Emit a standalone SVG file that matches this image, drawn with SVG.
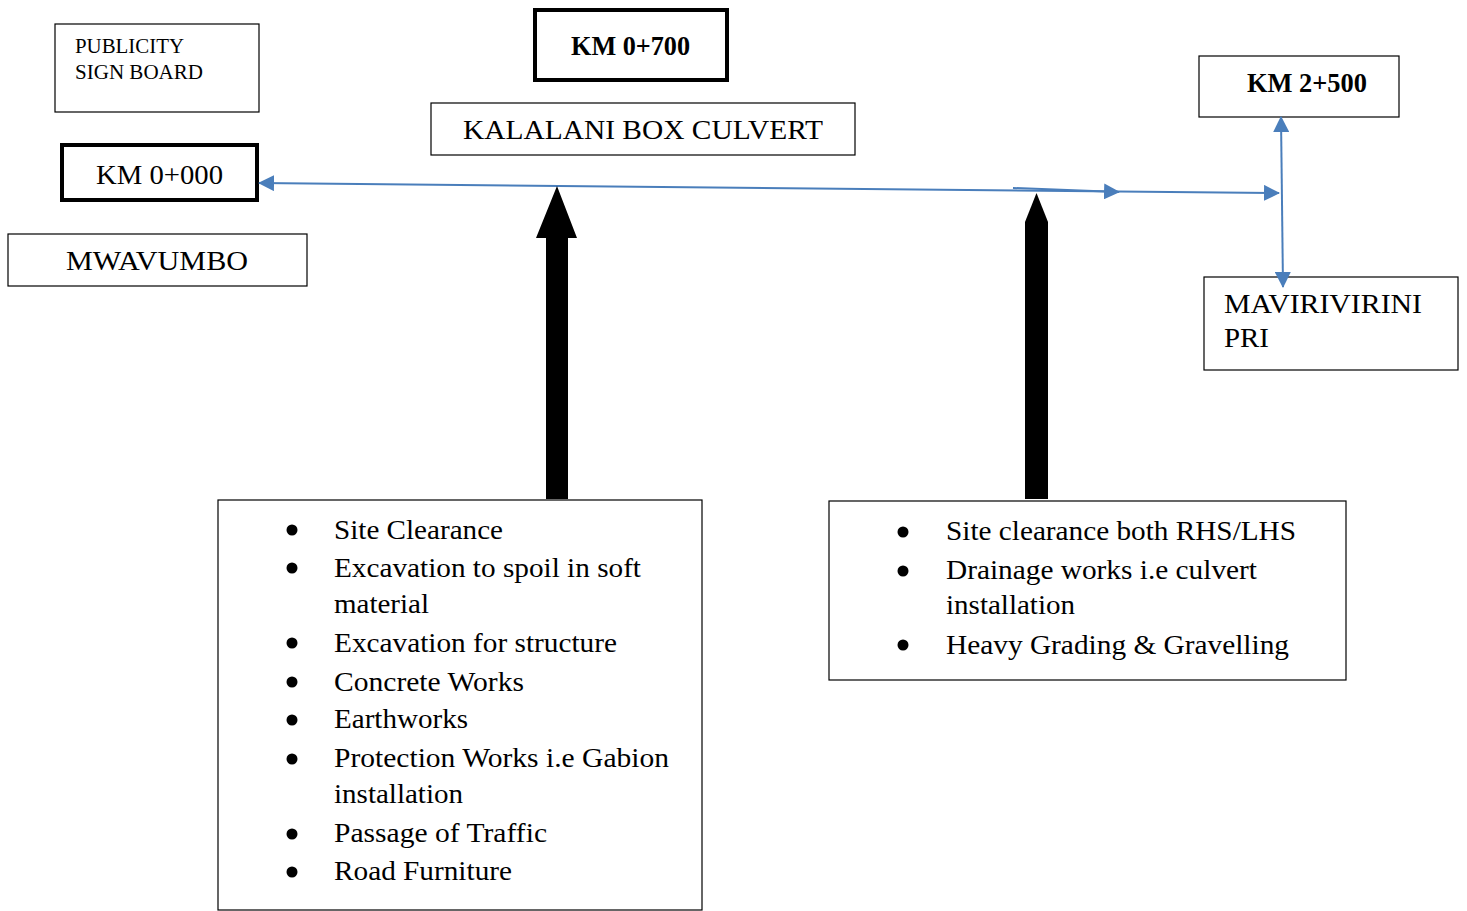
<svg xmlns="http://www.w3.org/2000/svg" width="1467" height="911" viewBox="0 0 1467 911">
<defs>
<style>
.box{fill:#fff;stroke:#000;stroke-width:1.2}
.thick{fill:#fff;stroke:#000;stroke-width:4}
.t{font-family:"Liberation Serif","Times New Roman",serif;font-size:27px;fill:#000}
.b{font-weight:bold}
.s{font-size:20px}
.conn{stroke:#4A7EBB;stroke-width:2;fill:none}
.blk{fill:#000}
</style>
<marker id="ah" viewBox="0 0 16 16" refX="15" refY="8" markerWidth="16" markerHeight="16" markerUnits="userSpaceOnUse" orient="auto-start-reverse">
<path d="M0,0 L16,8 L0,16 Z" fill="#4A7EBB"/>
</marker>
</defs>
<rect width="1467" height="911" fill="#fff"/>

<g id="publicity">
<rect class="box" x="55" y="24" width="204" height="88"/>
<text class="t s" x="75" y="53" textLength="109" lengthAdjust="spacingAndGlyphs">PUBLICITY</text>
<text class="t s" x="75" y="79" textLength="128" lengthAdjust="spacingAndGlyphs">SIGN BOARD</text>
</g>

<g id="km0000">
<rect class="thick" x="62" y="145" width="195" height="55"/>
<text class="t" x="96" y="184" font-size="26" textLength="127" lengthAdjust="spacingAndGlyphs">KM 0+000</text>
</g>

<g id="mwavumbo">
<rect class="box" x="8" y="234" width="299" height="52"/>
<text class="t" x="66" y="270" textLength="182" lengthAdjust="spacingAndGlyphs">MWAVUMBO</text>
</g>

<g id="km0700">
<rect class="thick" x="535" y="10" width="192" height="70"/>
<text class="t b" x="571" y="55" textLength="119" lengthAdjust="spacingAndGlyphs">KM 0+700</text>
</g>

<g id="kalalani">
<rect class="box" x="431" y="103" width="424" height="52"/>
<text class="t" x="463" y="139" textLength="360" lengthAdjust="spacingAndGlyphs">KALALANI BOX CULVERT</text>
</g>

<g id="km2500">
<rect class="box" x="1199" y="56" width="200" height="61"/>
<text class="t b" x="1247" y="92" textLength="120" lengthAdjust="spacingAndGlyphs">KM 2+500</text>
</g>

<g id="mavirivirini">
<rect class="box" x="1204" y="277" width="254" height="93"/>
<text class="t" x="1224" y="313" textLength="198" lengthAdjust="spacingAndGlyphs">MAVIRIVIRINI</text>
<text class="t" x="1224" y="347" textLength="45" lengthAdjust="spacingAndGlyphs">PRI</text>
</g>

<g id="list-left">
<rect class="box" x="218" y="500" width="484" height="410"/>
<g class="blk">
<circle cx="292" cy="530" r="5.5"/>
<circle cx="292" cy="568" r="5.5"/>
<circle cx="292" cy="643" r="5.5"/>
<circle cx="292" cy="682" r="5.5"/>
<circle cx="292" cy="720" r="5.5"/>
<circle cx="292" cy="759" r="5.5"/>
<circle cx="292" cy="834" r="5.5"/>
<circle cx="292" cy="872" r="5.5"/>
</g>
<text class="t" x="334" y="539" textLength="169" lengthAdjust="spacingAndGlyphs">Site Clearance</text>
<text class="t" x="334" y="577" textLength="307" lengthAdjust="spacingAndGlyphs">Excavation to spoil in soft</text>
<text class="t" x="334" y="613" textLength="95" lengthAdjust="spacingAndGlyphs">material</text>
<text class="t" x="334" y="652" textLength="283" lengthAdjust="spacingAndGlyphs">Excavation for structure</text>
<text class="t" x="334" y="691" textLength="190" lengthAdjust="spacingAndGlyphs">Concrete Works</text>
<text class="t" x="334" y="728" textLength="134" lengthAdjust="spacingAndGlyphs">Earthworks</text>
<text class="t" x="334" y="767" textLength="335" lengthAdjust="spacingAndGlyphs">Protection Works i.e Gabion</text>
<text class="t" x="334" y="803" textLength="129" lengthAdjust="spacingAndGlyphs">installation</text>
<text class="t" x="334" y="842" textLength="213" lengthAdjust="spacingAndGlyphs">Passage of Traffic</text>
<text class="t" x="334" y="880" textLength="178" lengthAdjust="spacingAndGlyphs">Road Furniture</text>
</g>

<g id="list-right">
<rect class="box" x="829" y="501" width="517" height="179"/>
<g class="blk">
<circle cx="903" cy="532" r="5.5"/>
<circle cx="903" cy="571" r="5.5"/>
<circle cx="903" cy="645" r="5.5"/>
</g>
<text class="t" x="946" y="540" textLength="350" lengthAdjust="spacingAndGlyphs">Site clearance both RHS/LHS</text>
<text class="t" x="946" y="579" textLength="311" lengthAdjust="spacingAndGlyphs">Drainage works i.e culvert</text>
<text class="t" x="946" y="614" textLength="129" lengthAdjust="spacingAndGlyphs">installation</text>
<text class="t" x="946" y="654" textLength="343" lengthAdjust="spacingAndGlyphs">Heavy Grading &amp; Gravelling</text>
</g>

<g id="connectors">
<line class="conn" x1="259" y1="183" x2="1279" y2="193" marker-start="url(#ah)" marker-end="url(#ah)"/>
<line class="conn" x1="1013" y1="188" x2="1119" y2="192" marker-end="url(#ah)"/>
<line class="conn" x1="1281" y1="117" x2="1283" y2="287" marker-start="url(#ah)" marker-end="url(#ah)"/>
<polygon class="blk" points="557,186 577,238 568,238 568,499 546,499 546,238 536,238"/>
<polygon class="blk" points="1036.5,193 1048,222 1048,499 1025,499 1025,222"/>
</g>
</svg>
